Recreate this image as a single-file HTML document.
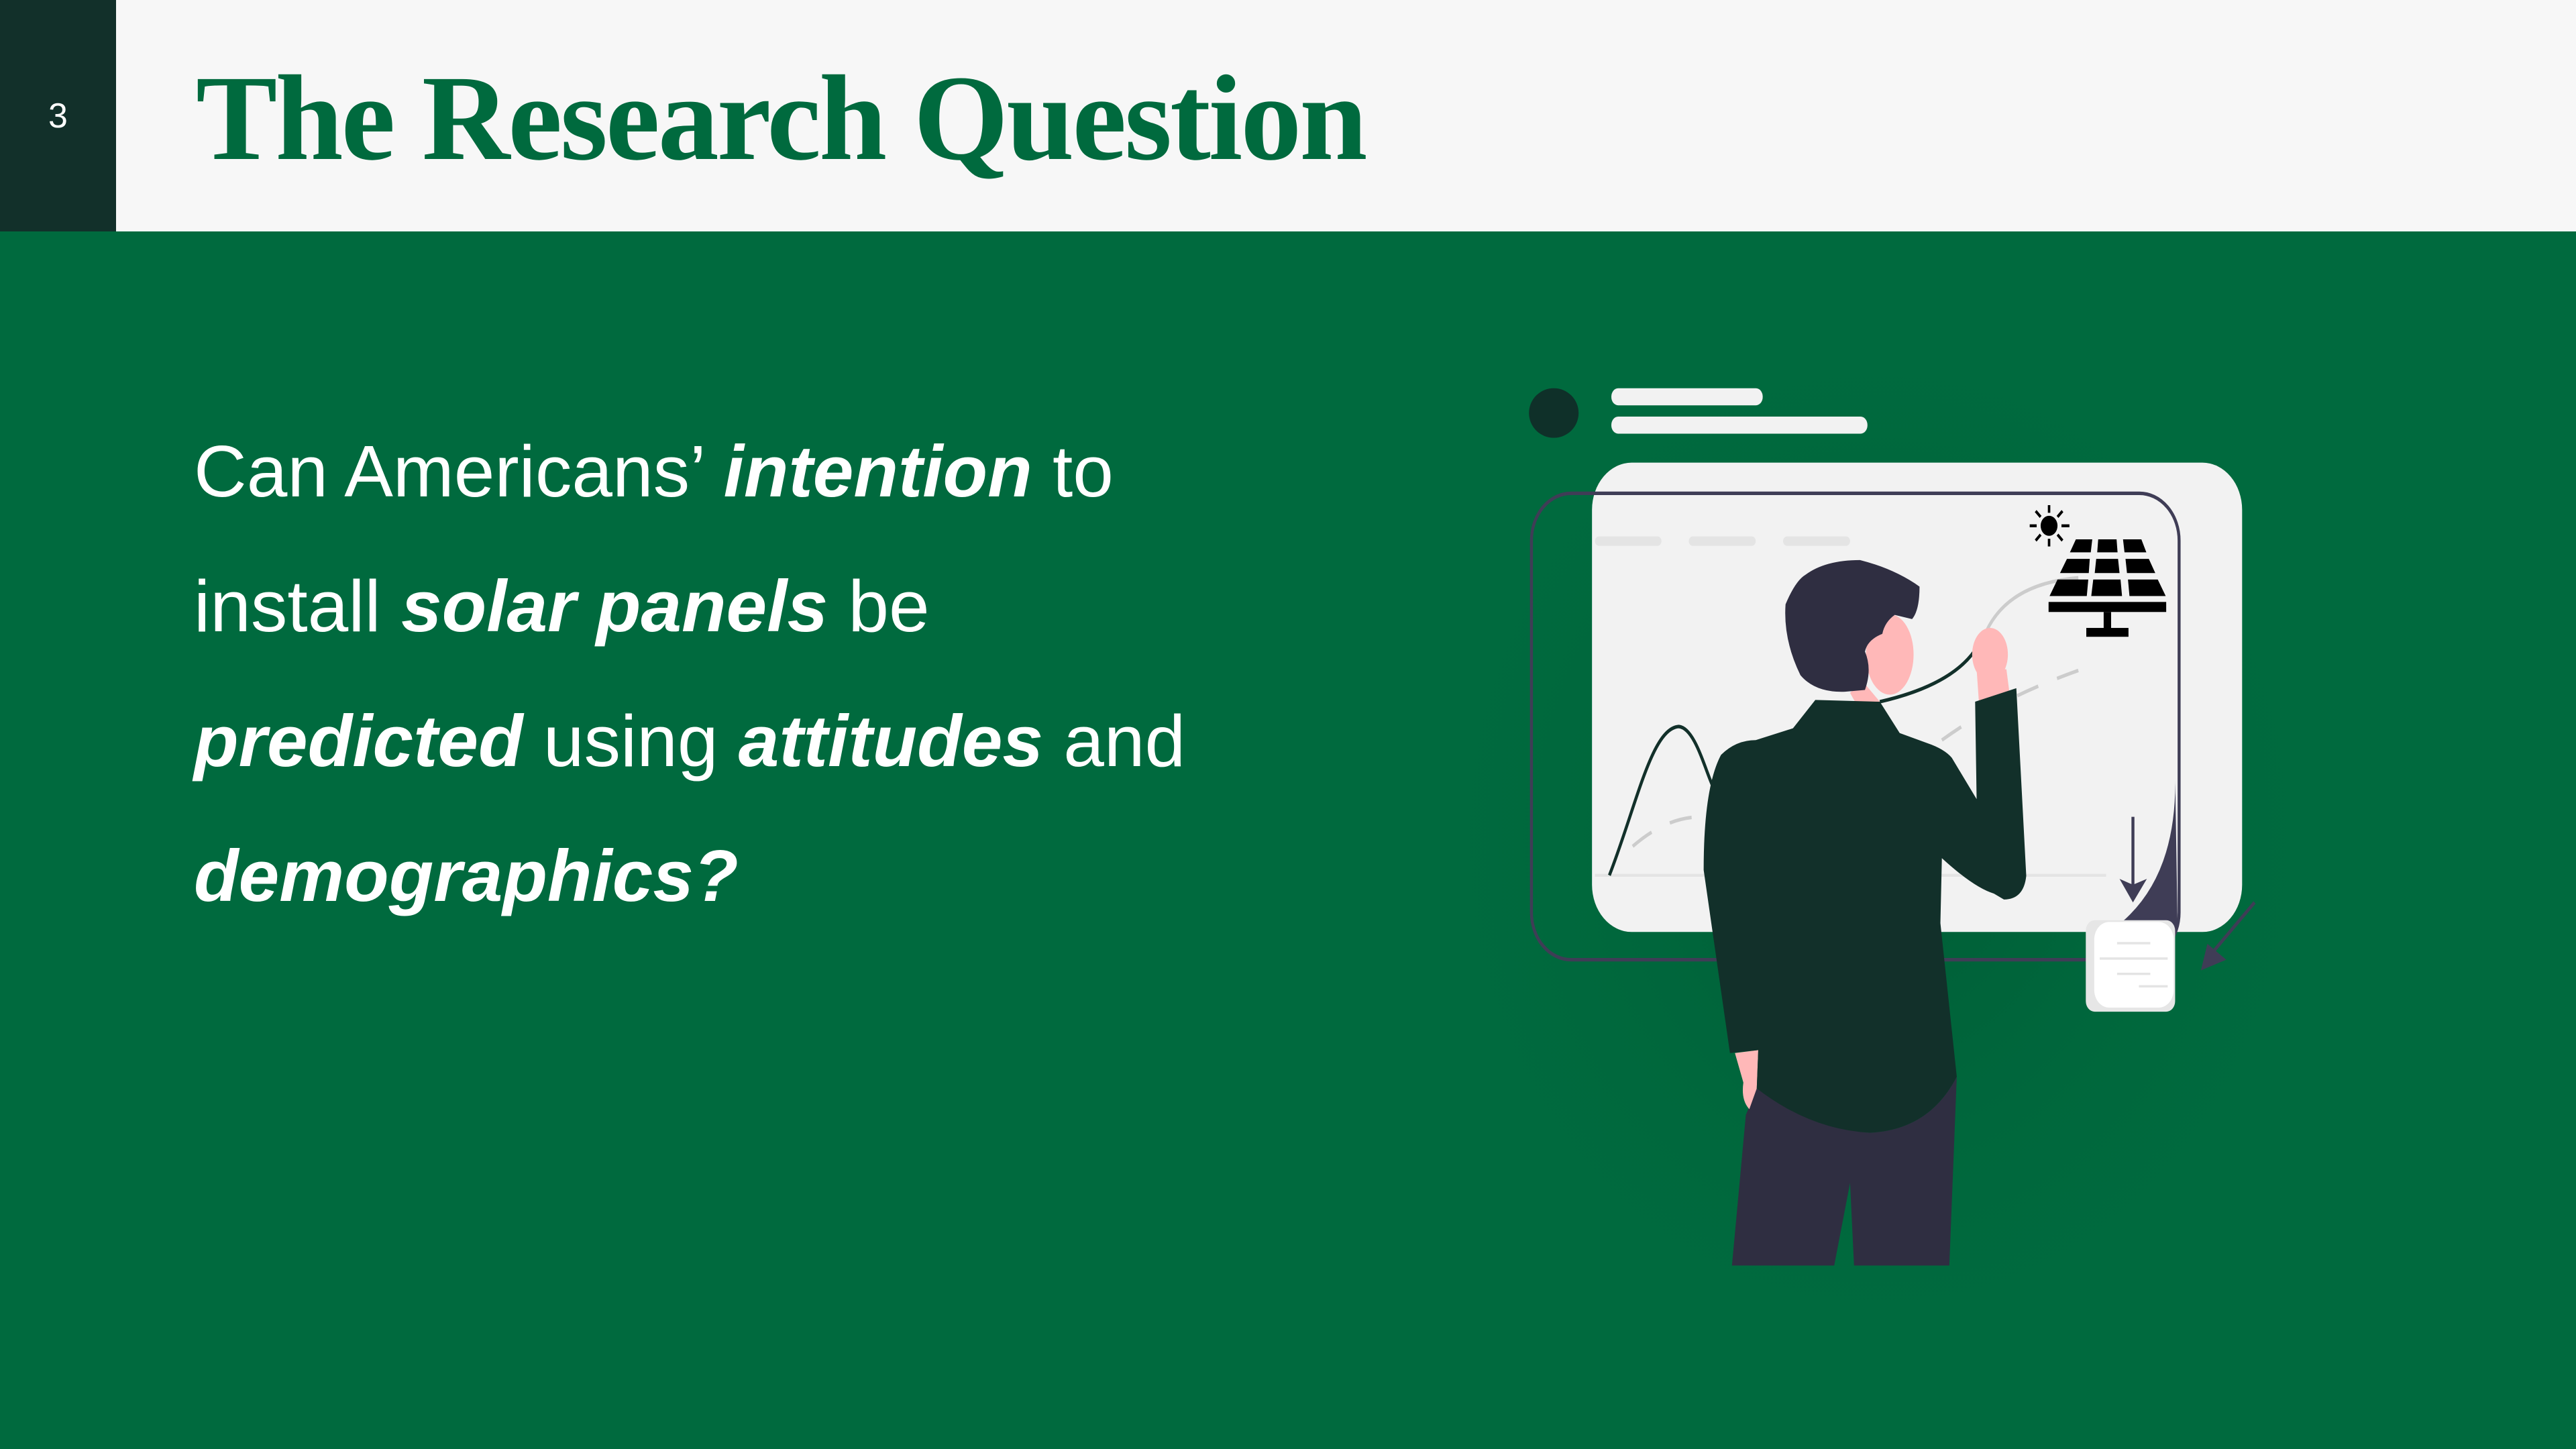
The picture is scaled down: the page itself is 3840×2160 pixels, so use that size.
<!DOCTYPE html>
<html><head><meta charset="utf-8"><style>
html,body{margin:0;padding:0}
body{width:3840px;height:2160px;position:relative;overflow:hidden;background:#006a3e;font-family:"Liberation Sans",sans-serif}
#header{position:absolute;left:0;top:0;width:3840px;height:345px;background:#f7f7f7}
#num{position:absolute;left:0;top:0;width:173px;height:345px;background:#12302a;color:#fff;font-size:52px;display:flex;align-items:center;justify-content:center}
#title{position:absolute;left:292px;top:86px;font-family:"Liberation Serif",serif;font-weight:bold;font-size:182px;color:#006a3e;letter-spacing:-3px;white-space:nowrap;line-height:1}
#q{position:absolute;left:289px;top:603px;color:#fff;font-size:109px;line-height:201px;width:1700px}
#q b{font-style:italic}
svg{position:absolute;left:0;top:0}
</style></head><body>
<div id="header"></div>
<div id="num">3</div>
<div id="title">The Research Question</div>
<div id="q">Can Americans’ <b>intention</b> to<br>install <b>solar panels</b> be<br><b>predicted</b> using <b>attitudes</b> and<br><b>demographics?</b></div>
<svg width="3840" height="2160">
<defs><radialGradient id="sh" cx="0.5" cy="0.5" r="0.5"><stop offset="0" stop-color="#004d2c" stop-opacity="0.5"/><stop offset="1" stop-color="#006a3e" stop-opacity="0"/></radialGradient></defs>
<ellipse cx="2800" cy="1250" rx="750" ry="850" fill="url(#sh)"/>
<g transform="translate(2240,540) scale(0.7398,0.8801)">
<ellipse cx="103" cy="86" rx="50" ry="42" fill="#0f3029"/>
<rect x="219" y="44" width="305" height="29" rx="14" fill="#f2f2f2"/>
<rect x="219" y="92" width="516" height="29" rx="14" fill="#f2f2f2"/>
<rect x="180" y="170" width="1310" height="795" rx="80" fill="#f2f2f2"/>
<path d="M1355 700 Q1360 880 1230 960 L1360 960 Z" fill="#3f3d56"/>
<rect x="58" y="222" width="1305" height="790" rx="80" fill="none" stroke="#3f3d56" stroke-width="6"/>
<g fill="#e4e4e4"><rect x="186" y="295" width="134" height="16" rx="8"/><rect x="375" y="295" width="135" height="16" rx="8"/><rect x="565" y="295" width="135" height="16" rx="8"/></g>
<line x1="186" y1="869" x2="1216" y2="869" stroke="#e4e4e4" stroke-width="5"/>
<path d="M215 869 C270 750 300 620 355 617 C390 620 410 700 430 730" fill="none" stroke="#12302a" stroke-width="6"/>
<path d="M262 820 Q330 770 400 770 M885 640 Q1000 570 1160 522" fill="none" stroke="#ccc" stroke-width="6" stroke-dasharray="45,40"/>
<path d="M975 455 Q1020 375 1160 365" fill="none" stroke="#ccc" stroke-width="6"/>
<path d="M760 575 Q900 548 950 490" fill="none" stroke="#12302a" stroke-width="6"/>
<g><circle cx="1101" cy="277" r="17" fill="#000"/><g stroke="#000" stroke-width="5"><line x1="1101" y1="242" x2="1101" y2="255"/><line x1="1101" y1="299" x2="1101" y2="312"/><line x1="1062" y1="277" x2="1076" y2="277"/><line x1="1126" y1="277" x2="1142" y2="277"/><line x1="1074" y1="252" x2="1084" y2="262"/><line x1="1118" y1="292" x2="1128" y2="302"/><line x1="1128" y1="252" x2="1118" y2="262"/><line x1="1084" y1="292" x2="1074" y2="302"/></g></g>
<g fill="#000"><polygon points="1155,300 1188,300 1185,322 1143,322"/><polygon points="1200,300 1237,300 1239,322 1198,322"/><polygon points="1250,300 1287,300 1297,322 1253,322"/><polygon points="1137,333 1183,333 1181,357 1123,357"/><polygon points="1196,333 1240,333 1243,357 1193,357"/><polygon points="1255,333 1302,333 1315,357 1258,357"/><polygon points="1118,368 1180,368 1177,396 1102,396"/><polygon points="1190,368 1245,368 1248,396 1186,396"/><polygon points="1260,368 1320,368 1336,396 1263,396"/><rect x="1100" y="406" width="237" height="17"/><rect x="1211" y="423" width="15" height="28"/><rect x="1176" y="450" width="85" height="15"/></g>
<line x1="1270" y1="770" x2="1270" y2="905" stroke="#3f3d56" stroke-width="6"/><path d="M1243 875 L1270 915 L1298 875 L1270 885 Z" fill="#3f3d56"/>
<line x1="1515" y1="915" x2="1425" y2="1005" stroke="#3f3d56" stroke-width="6"/><path d="M1420 985 L1407 1030 L1458 1012 Z" fill="#3f3d56"/>
<rect x="1175" y="945" width="180" height="155" rx="18" fill="#e6e6e6"/><rect x="1192" y="948" width="160" height="145" rx="30" fill="#fff"/>
<g stroke="#e4e4e4" stroke-width="4"><line x1="1238" y1="984" x2="1305" y2="984"/><line x1="1203" y1="1010" x2="1340" y2="1010"/><line x1="1238" y1="1036" x2="1305" y2="1036"/><line x1="1282" y1="1057" x2="1340" y2="1057"/></g>
<g>
<path d="M512 1230 Q640 1300 740 1305 Q860 1300 915 1210 L900 1530 L708 1530 L700 1390 L668 1530 L462 1530 L490 1275 Z" fill="#2f2e41"/>
<path d="M468 1170 L515 1165 L512 1230 L497 1265 Q480 1250 485 1220 Z" fill="#ffb8b8"/>
<path d="M725 540 L760 575 L720 590 L700 560 Z" fill="#ffb8b8"/>
<ellipse cx="780" cy="495" rx="48" ry="68" fill="#ffb8b8"/>
<path d="M955 520 L960 580 L1022 565 L1015 520 Z" fill="#ffb8b8"/>
<ellipse cx="982" cy="495" rx="36" ry="45" fill="#ffb8b8"/>
<path d="M630 572 L760 575 L800 628 L855 645 Q890 655 905 670 L955 740 L952 575 L1035 552 L1055 870 Q1050 910 1010 910 L990 900 Q950 890 885 840 L882 950 L915 1210 Q860 1300 740 1305 Q620 1300 512 1230 L515 1165 L458 1170 L405 860 Q405 720 440 665 Q470 640 510 640 L585 620 Z" fill="#12302a"/>
<path d="M600 530 Q565 470 570 410 Q590 370 610 360 Q650 335 720 335 Q790 350 840 380 Q840 420 825 435 L790 428 Q770 440 765 460 Q735 470 730 490 Q745 520 730 555 L690 558 Q630 560 600 530 Z" fill="#2f2e41"/>
</g>
</g>
</svg>
</body></html>
